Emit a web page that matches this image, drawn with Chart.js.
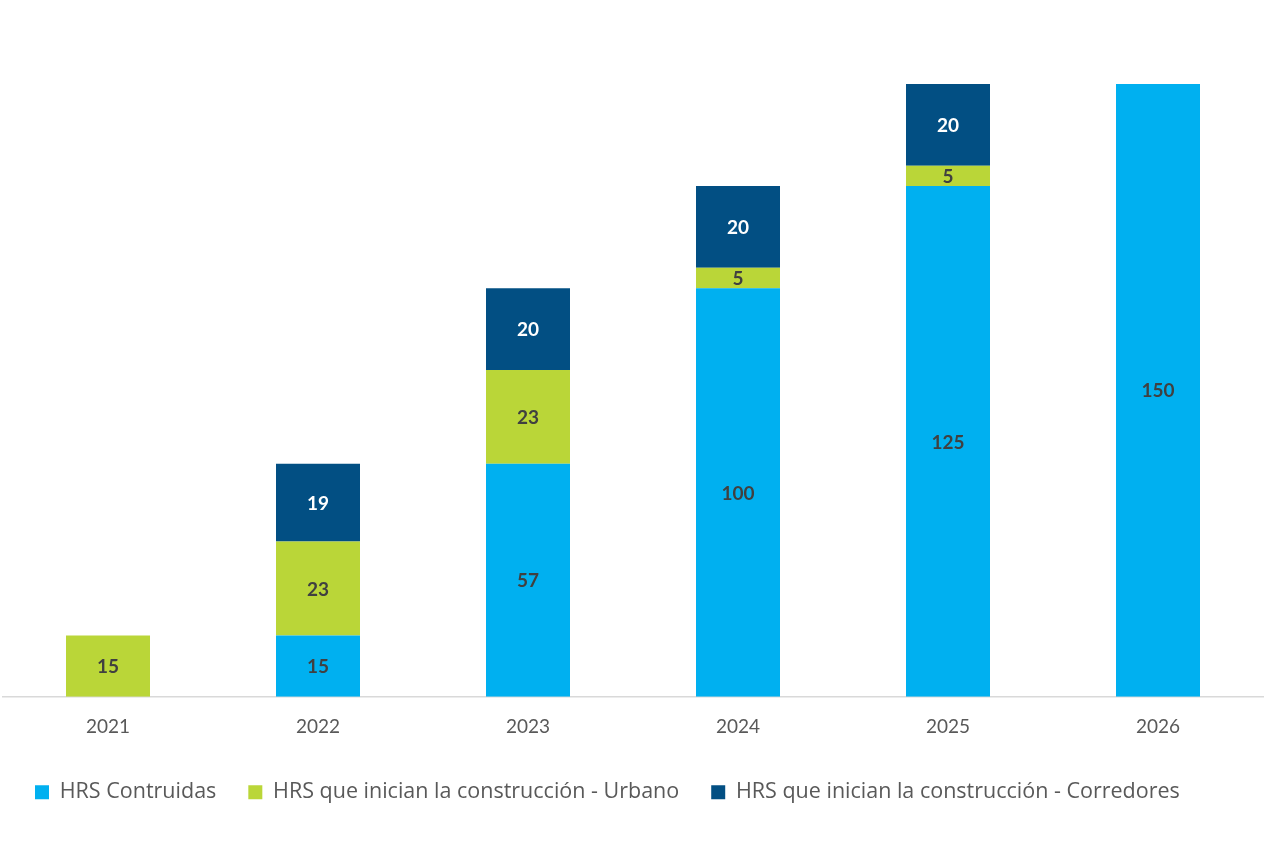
<!DOCTYPE html>
<html>
<head>
<meta charset="UTF-8">
<title>HRS</title>
<style>
  body { margin: 0; background: #fff; }
</style>
</head>
<body>
<script src="https://cdn.jsdelivr.net/npm/chart.js@4/dist/chart.umd.min.js"></script>

<canvas id="hrsChart" width="1280" height="853"></canvas>

<script>
// years on the x axis
var years = ['2021', '2022', '2023', '2024', '2025', '2026'];

// series, bottom to top (null = no segment)
var construidas = [null, 15, 57, 100, 125, 150];
var urbano      = [15, 23, 23, 5, 5, null];
var corredores  = [null, 19, 20, 20, 20, null];

var seriesNames = [
  'HRS Contruidas',
  'HRS que inician la construcción - Urbano',
  'HRS que inician la construcción - Corredores'
];

// draws the value in the middle of each segment
var segmentLabels = {
  id: 'segmentLabels',
  afterDatasetsDraw: function (chart) {
    var ctx = chart.ctx;
    ctx.save();
    ctx.font = 'bold 19px Lato';
    ctx.textAlign = 'center';
    ctx.textBaseline = 'middle';
    chart.data.datasets.forEach(function (ds, i) {
      var meta = chart.getDatasetMeta(i);
      meta.data.forEach(function (bar, j) {
        var v = ds.data[j];
        if (v === null || v === undefined) return;
        ctx.fillStyle = ds.labelColor;
        ctx.fillText(String(v), bar.x, (bar.y + bar.base) / 2 + 1);
      });
    });
    ctx.restore();
  }
};

var ctx = document.getElementById('hrsChart').getContext('2d');
var hrsChart = new Chart(ctx, {
  type: 'bar',
  data: {
    labels: years,
    datasets: [
      { label: seriesNames[0], data: construidas, backgroundColor: '#00B0F0', labelColor: '#404040' },
      { label: seriesNames[1], data: urbano,      backgroundColor: '#BAD638', labelColor: '#404040' },
      { label: seriesNames[2], data: corredores,  backgroundColor: '#024F83', labelColor: '#FFFFFF' }
    ]
  },
  options: {
    responsive: false,
    animation: false,
    datasets: {
      bar: { barPercentage: 0.4, categoryPercentage: 1.0 }
    },
    layout: { padding: { top: 84, left: 3, right: 17, bottom: 40 } },
    scales: {
      x: {
        stacked: true,
        grid: { display: false },
        border: { display: true, color: '#D9D9D9', width: 1.5 },
        ticks: { color: '#595959', font: { family: 'Lato', size: 19 }, padding: 11 }
      },
      y: {
        stacked: true,
        display: false,
        min: 0,
        max: 150
      }
    },
    plugins: {
      tooltip: { enabled: false },
      legend: {
        position: 'bottom',
        align: 'start',
        labels: {
          boxWidth: 14,
          boxHeight: 14,
          padding: 32,
          color: '#595959',
          font: { family: 'Open Sans', size: 21.5 }
        }
      }
    }
  },
  plugins: [segmentLabels]
});
</script>
</body>
</html>
